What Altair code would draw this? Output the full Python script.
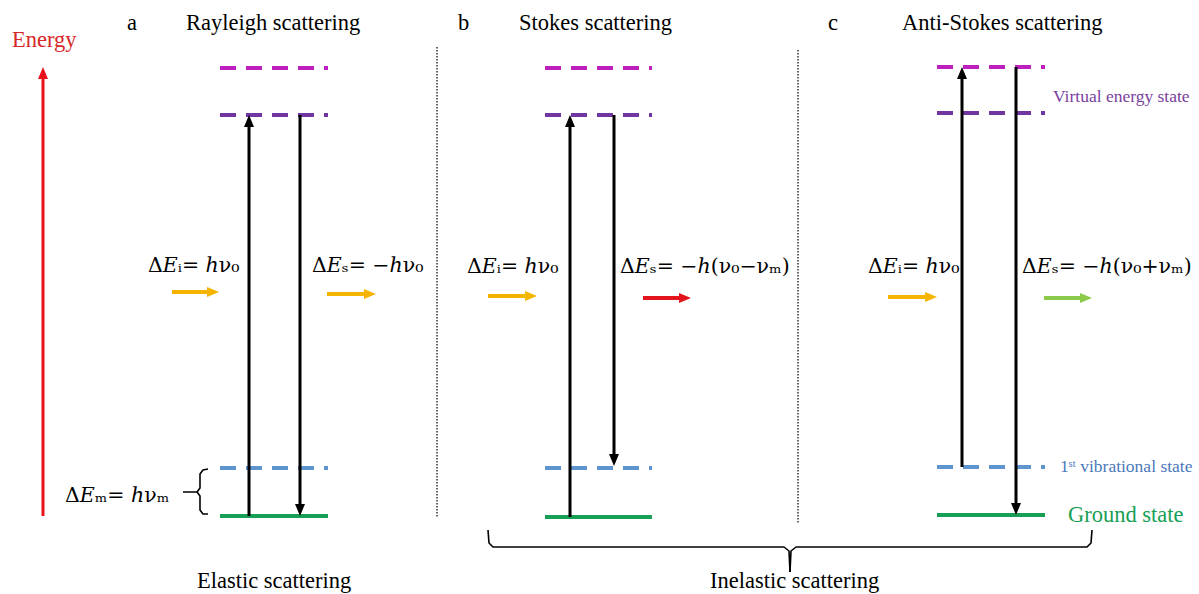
import altair as alt
import pandas as pd

W, H = 1199, 594

# ---- energy levels, one entry per panel (a, b, c) ----
panel_x0 = [220, 545, 937]
panel_x1 = [328, 652, 1045]
upper_virtual_y = [68, 68, 67]
lower_virtual_y = [115, 115, 113]
vibrational_y = [468, 468, 467]
ground_y = [516, 517, 515]

# ---- transitions: x position, start level, end level ----
arrow_x = [249, 300, 570, 614, 962, 1016]
arrow_from = [516, 115, 517, 115, 467, 67]
arrow_to = [115, 516, 115, 466, 67, 515]

# ---- photon arrows ----
photon_x0 = [172, 327, 488, 643, 888, 1044]
photon_x1 = [219, 376, 537, 691, 937, 1092]
photon_y = [292, 294, 296, 298, 297, 298]
photon_color = ["#f4b400", "#f4b400", "#f4b400", "#e3141c", "#f4b400", "#8cca4c"]

# ---- energy axis ----
energy_x = 43
energy_bottom, energy_top = 516, 67

# ---- panel separators ----
sep_x = [437, 798]
sep_y0 = [47, 50]
sep_y1 = [518, 523]

# ---- braces (polylines) ----
small_brace_x = [[208, 203, 200, 200, 197, 183], [197, 200, 200, 203, 208]]
small_brace_y = [[469, 470, 474, 488, 492, 492], [492, 496, 510, 514, 514]]
big_brace_x = [[488, 489, 493, 784, 789, 790], [1092, 1091, 1087, 796, 791, 790]]
big_brace_y = [[530, 543, 547, 547, 551, 572], [530, 543, 547, 547, 551, 572]]

# ---- text ----
title_text = ["a", "Rayleigh scattering", "b", "Stokes scattering", "c", "Anti-Stokes scattering",
              "Elastic scattering", "Inelastic scattering"]
title_x = [127, 186, 458, 519, 828, 902, 197, 710]
title_y = [30, 30, 30, 30, 30, 30, 588, 588]

formula_text = ["Δ𝐸ᵢ= ℎν₀", "Δ𝐸ₛ= −ℎν₀", "Δ𝐸ᵢ= ℎν₀", "Δ𝐸ₛ= −ℎ(ν₀−νₘ)",
                "Δ𝐸ᵢ= ℎν₀", "Δ𝐸ₛ= −ℎ(ν₀+νₘ)", "Δ𝐸ₘ= ℎνₘ"]
formula_x = [148, 312, 467, 620, 868, 1022, 65]
formula_y = [272, 272, 273, 273, 273, 273, 502]

side_text = ["Energy", "Virtual energy state", "1ˢᵗ vibrational state", "Ground state"]
side_x = [12, 1053, 1060, 1068]
side_y = [47, 102, 472, 522]
side_size = [22.5, 17.5, 17.5, 22.5]
side_color = ["#d62828", "#7a3f9e", "#4a78b8", "#17a055"]

SERIF = "Liberation Serif"
MATH = "DejaVu Serif"

xs = alt.Scale(domain=[0, W], nice=False, zero=False)
ys = alt.Scale(domain=[0, H], nice=False, zero=False, reverse=True)


def X(f):
    return alt.X(f, type="quantitative", scale=xs, axis=None)


def Y(f):
    return alt.Y(f, type="quantitative", scale=ys, axis=None)


layers = []

# energy levels
level_specs = [
    (upper_virtual_y, "#bf1fbf"),
    (lower_virtual_y, "#7236a0"),
    (vibrational_y, "#5f95cf"),
]
for level_vals, col in level_specs:
    df = pd.DataFrame({"x": panel_x0, "x2": panel_x1, "y": level_vals})
    layers.append(
        alt.Chart(df).mark_rule(color=col, strokeWidth=4, strokeDash=[16, 10], strokeCap="butt")
        .encode(x=X("x"), x2=alt.X2("x2"), y=Y("y"))
    )
ground_df = pd.DataFrame({"x": panel_x0, "x2": panel_x1, "y": ground_y})
layers.append(
    alt.Chart(ground_df).mark_rule(color="#17a055", strokeWidth=4, strokeCap="butt")
    .encode(x=X("x"), x2=alt.X2("x2"), y=Y("y"))
)

# separators
sep_df = pd.DataFrame({"x": sep_x, "y": sep_y0, "y2": sep_y1})
layers.append(
    alt.Chart(sep_df).mark_rule(color="#333333", strokeWidth=1.5, strokeDash=[1.5, 1.5])
    .encode(x=X("x"), y=Y("y"), y2=alt.Y2("y2"))
)

# transition arrows
HEAD_H = 12
tr = pd.DataFrame({"x": arrow_x, "y0": arrow_from, "y1": arrow_to})
tr["up"] = tr["y1"] < tr["y0"]
tr["head_y"] = tr["y1"] + tr["up"].map({True: HEAD_H / 2, False: -HEAD_H / 2})
tr["shaft_end"] = tr["y1"] + tr["up"].map({True: HEAD_H - 2, False: -(HEAD_H - 2)})
layers.append(
    alt.Chart(tr).mark_rule(color="black", strokeWidth=3)
    .encode(x=X("x"), y=Y("y0"), y2=alt.Y2("shaft_end"))
)
UP = "M-1,1.2L1,1.2L0,-1.2Z"
DOWN = "M-1,-1.2L1,-1.2L0,1.2Z"
RIGHT = "M-1.2,-1L1.2,0L-1.2,1Z"
layers.append(
    alt.Chart(tr[tr["up"]]).mark_point(shape=UP, filled=True, size=100, color="black", opacity=1, strokeWidth=0)
    .encode(x=X("x"), y=Y("head_y"))
)
layers.append(
    alt.Chart(tr[~tr["up"]]).mark_point(shape=DOWN, filled=True, size=100, color="black", opacity=1, strokeWidth=0)
    .encode(x=X("x"), y=Y("head_y"))
)

# energy axis arrow
en = pd.DataFrame({"x": [energy_x], "y0": [energy_bottom], "y1": [energy_top]})
en["shaft_end"] = en["y1"] + HEAD_H - 2
en["head_y"] = en["y1"] + HEAD_H / 2
layers.append(
    alt.Chart(en).mark_rule(color="#e8121c", strokeWidth=3)
    .encode(x=X("x"), y=Y("y0"), y2=alt.Y2("shaft_end"))
)
layers.append(
    alt.Chart(en).mark_point(shape=UP, filled=True, size=100, color="#e8121c", opacity=1, strokeWidth=0)
    .encode(x=X("x"), y=Y("head_y"))
)

# photon arrows
ph = pd.DataFrame({"x0": photon_x0, "x1": photon_x1, "y": photon_y, "c": photon_color})
ph["shaft_end"] = ph["x1"] - 8
ph["head_x"] = ph["x1"] - 6
layers.append(
    alt.Chart(ph).mark_rule(strokeWidth=4, strokeCap="butt")
    .encode(x=X("x0"), x2=alt.X2("shaft_end"), y=Y("y"), color=alt.Color("c:N", scale=None))
)
layers.append(
    alt.Chart(ph).mark_point(shape=RIGHT, filled=True, size=100, opacity=1, strokeWidth=0)
    .encode(x=X("head_x"), y=Y("y"), color=alt.Color("c:N", scale=None))
)

# braces
rows = []
for seg, (bx, by) in enumerate(zip(small_brace_x + big_brace_x, small_brace_y + big_brace_y)):
    for i, (px, py) in enumerate(zip(bx, by)):
        rows.append({"seg": seg, "i": i, "x": px, "y": py})
br = pd.DataFrame(rows)
layers.append(
    alt.Chart(br).mark_line(color="black", strokeWidth=1.6, strokeJoin="round")
    .encode(x=X("x"), y=Y("y"), detail="seg:N", order="i:Q")
)

# text
tt = pd.DataFrame({"t": title_text, "x": title_x, "y": title_y})
layers.append(
    alt.Chart(tt).mark_text(font=SERIF, fontSize=22.5, color="black", align="left", baseline="alphabetic")
    .encode(x=X("x"), y=Y("y"), text="t:N")
)
ft = pd.DataFrame({"t": formula_text, "x": formula_x, "y": formula_y})
layers.append(
    alt.Chart(ft).mark_text(font=MATH, fontSize=20.5, color="black", align="left", baseline="alphabetic")
    .encode(x=X("x"), y=Y("y"), text="t:N")
)
st = pd.DataFrame({"t": side_text, "x": side_x, "y": side_y, "s": side_size, "c": side_color})
layers.append(
    alt.Chart(st).mark_text(font=SERIF, align="left", baseline="alphabetic")
    .encode(x=X("x"), y=Y("y"), text="t:N",
            size=alt.Size("s:Q", scale=None), color=alt.Color("c:N", scale=None))
)

chart = (
    alt.layer(*layers)
    .properties(width=W, height=H, autosize=alt.AutoSizeParams(type="none"), padding=0, background="white")
    .configure_view(stroke=None)
)

chart.save("out.html", embed_options={"renderer": "svg", "actions": False})
